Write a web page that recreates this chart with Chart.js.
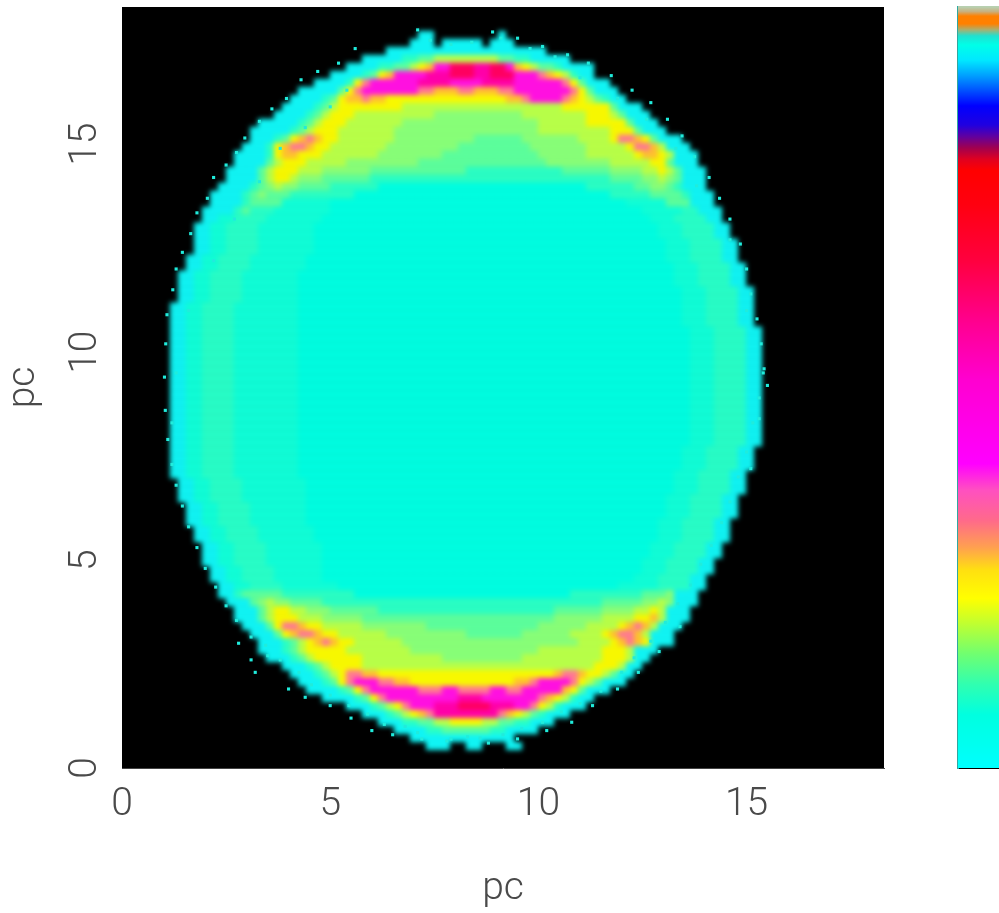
<!DOCTYPE html>
<html>
<head>
<meta charset="utf-8">
<style>
html, body { margin: 0; padding: 0; background: #fff; overflow: hidden; }
#wrap { position: relative; width: 999px; height: 913px; }
#map { position: absolute; left: 0; top: 0; filter: blur(0.5px); }
#bar { position: absolute; left: 957px; top: 6px; filter: blur(0.7px); }
</style>
<script src="https://cdn.jsdelivr.net/npm/chart.js@4/dist/chart.umd.js"></script>
</head>
<body>
<div id="wrap">
  <canvas id="map" width="999" height="913"></canvas>
  <canvas id="bar" width="42" height="763"></canvas>
</div>
<script>
// colour of each level letter, low to high
var levelColors = {
  c: '#10f4f4', a: '#00ffe2', d: '#10ffd8', e: '#28ffc8', b: '#2affc4', g: '#5cff9c', h: '#88ff78', l: '#b8ff48',
  y: '#f8f800', o: '#ffc030', s: '#ff7a90', m: '#ff10e0', p: '#ff00a8', r: '#ff0060'
};

// image rows, top to bottom, run length coded ("." = empty)
var mapRows = [
  '', '', '',
  '37.2c8.1c',
  '36.3c1.5c1.3c',
  '33.20c',
  '30.5c2b2g8l2g2b5c',
  '28.4c2b2g1l1y1o2m3r2p2r1m1o1y1l2g1b4c',
  '26.4c1b1g1y1o4m3p3r2p3r3m1s1o1y1l1b2c',
  '24.4c1b1y1s6m4p4m4p6m1s1y1g3c',
  '22.5c1g1y1s7m2s3o2s3o2s7m1s1y1g3c',
  '21.4c1b1g1y2o1s2o15y2o1s4m1s1o1y1l1g1b2c',
  '20.4c1b1g1l8y20l6y1g3c',
  '19.4c1b1g1l3y10l11h8l3y1l1g3c',
  '17.5c1b1g1l3y7l17h6l5y1g3c',
  '16.5c1b1g1l3y7l18h9l3y1g3c',
  '16.3c1b1g1y1o1s1o2y7l10h6g7h4l1y2s1o1y1g3c',
  '15.3c1b1y1o2s1o2y7l9h9g7h5l1y2s1o1l3c',
  '14.4c1b1y2o3y7l8h12g6h6l1y2o1y1l3c',
  '14.4c1g1l3y5l9h16g8h5l2y1g3c',
  '13.4c1g1l3y3l6h12g12b6g4h2l1y1l1g3c',
  '13.4c1g1l2y1l3h6g30b4g2h1l1h1g3c',
  '12.4c1b1g1h1l2h4g6b26a6b2g2h1g1b3c',
  '11.4c1b1g1h3g8b32a5b4g1b3c',
  '11.4c1b4g6d37a5d3g3c',
  '10.4c1b1g3e7d39a5d2e3c',
  '10.2c2d4e7d41a3d4e2c',
  '9.2c2d4e7d43a3d4e2c',
  '9.2c2d4e7d43a3d4e2c',
  '9.2c2d4e7d44a3d4e2c',
  '9.2c2d4e7d44a3d4e2c',
  '8.2c2d4e7d45a3d4e2c',
  '8.2c2d4e7d46a3d4e2c',
  '7.2c2d4e7d47a3d4e2c',
  '7.2c2d4e7d47a3d4e2c',
  '7.2c2d4e7d48a3d4e2c',
  '7.2c2d4e7d48a3d4e2c',
  '6.2c2d4e8d48a3d4e2c',
  '6.2c2d4e8d48a3d4e2c',
  '6.2c2d4e8d48a3d4e2c',
  '6.2c2d4e8d49a3d4e2c',
  '6.2c2d4e8d49a3d4e2c',
  '6.2c2d4e8d49a3d4e2c',
  '6.2c2d4e8d49a3d4e2c',
  '6.2c2d4e8d49a3d4e2c',
  '6.2c2d4e8d49a3d4e2c',
  '6.2c2d4e8d49a3d4e2c',
  '6.2c2d4e8d49a3d4e2c',
  '6.2c2d4e8d49a3d4e2c',
  '6.2c2d4e8d49a3d4e2c',
  '6.2c2d4e8d49a3d4e2c',
  '6.2c2d4e8d49a3d4e2c',
  '6.2c2d4e8d49a3d4e2c',
  '6.2c2d4e8d49a3d4e2c',
  '6.2c2d4e8d49a3d4e2c',
  '6.2c2d4e8d48a3d4e2c',
  '6.2c2d4e8d48a3d4e2c',
  '6.2c2d4e8d48a3d4e2c',
  '6.2c2d4e8d47a3d4e2c',
  '7.2c2d4e8d46a3d4e2c',
  '7.2c2d4e8d46a3d4e2c',
  '7.2c2d4e8d45a3d4e2c',
  '8.2c2d4e7d45a3d4e2c',
  '8.2c2d4e7d45a3d4e2c',
  '8.2c2d4e7d44a3d4e2c',
  '9.2c2d4e7d43a3d4e2c',
  '9.2c2d4e7d43a3d4e2c',
  '10.2c2d4e7d41a3d4e2c',
  '10.2c2d4e7d41a3d4e2c',
  '10.2c2d4e7d40a3d4e2c',
  '11.2c2d4e6d40a3d4e2c',
  '11.2c2d4e6d39a3d4e2c',
  '12.2c2d4e7d35a5d4e2c',
  '12.2c1b5g9b27a9b3g1h3c',
  '13.3c1g1h1l2h4g35b5g2h1l1h3c',
  '14.3c1g1l2y2l3h6g22b6g4h2l1y1l3c',
  '14.3c1g1l3y3l5h24g6h4l2y1o1l3c',
  '15.3c1g1y2s1o2y5l8h14g6h4l1y1o1s1o1l3c',
  '16.3c1g1y1o2s1o2y6l10h7g6h4l1y1o2s1o1l3c',
  '17.3c1b1g1l1y1o1s1o2y6l22h4l1y1o1s1o1y3c',
  '17.3c1b1g1l5y8l16h8l3y1l3c',
  '18.3c1b1g1l6y10l10h10l3y1l2c',
  '20.3c1b1g1l4y29l3y1l2c',
  '21.3c1b1g1l1y2s2o22y1o2s1o2y1l1g2c',
  '22.3c1b1g1y1s3m2s2o13y2o1s4m1s1y1l1g3c',
  '23.4c1b1g1y1s6m3s2m4s2m2s5m1o1y1g3c',
  '25.4c1b1g1y1s9m3p7m1s1o1y1l1b2c',
  '28.3c1b1g1l1y1s3m3p4r3p2m1s1y1l1b3c',
  '30.3c1b1g1l1y1o1s8p1s1o1y1l1g1b3c',
  '32.3c2b2g2l4y2l2g2b3c',
  '34.4c2b6g2b4c',
  '36.13c',
  '38.3c2.2c3.2c'
];

// loose cyan pixels round the edge, in pc
var speckX = [2.8, 3.2, 3.1, 3.5, 4.0, 4.4, 5.0, 5.5, 6.0, 6.5, 7.2, 7.8, 8.3, 8.8, 9.5, 10.2, 10.8, 11.3, 11.9, 12.4, 12.9, 13.4,
  7.1, 7.4, 7.9, 8.4, 8.9, 9.1, 9.8, 10.4, 11.0, 11.9, 12.6, 13.3, 13.8, 5.4, 5.0, 4.4, 3.8, 3.3, 2.7, 2.2, 1.6, 1.3, 1.2,
  15.4, 15.5, 15.3, 15.1, 15.0, 14.6,
  5.6, 5.2, 4.7, 4.3, 3.95, 3.6, 3.3, 2.95, 2.75, 2.5, 2.2, 2.05, 1.8, 1.65, 1.45, 1.3, 1.22, 1.08, 1.05, 1.02, 1.04, 1.1, 1.2, 1.3, 1.45, 1.6,
  1.8, 2.0, 2.25, 2.5, 2.75, 3.1, 3.45, 3.8, 4.25, 4.55, 5.0, 5.45, 5.9, 6.3, 6.8, 7.1,
  7.9, 8.6, 9.15, 9.6, 10.1, 10.55, 11.0, 11.5, 12.0, 12.3, 12.7, 13.05, 13.35, 13.65, 13.9, 14.15, 14.4, 14.6, 14.8, 15.0, 15.15, 15.3,
  15.42, 15.35, 15.25, 15.1, 15.0, 14.85, 14.6, 14.35, 14.1, 13.75, 13.45, 13.1, 12.7, 12.25, 11.75, 11.2, 10.7, 10.1, 9.5];
var speckY = [3.0, 2.3, 2.6, 2.7, 1.9, 1.7, 1.5, 1.2, 0.9, 0.8, 0.7, 0.65, 0.75, 0.6, 0.7, 0.9, 1.1, 1.5, 1.9, 2.3, 2.8, 3.4,
  17.75, 17.5, 17.4, 17.45, 17.7, 17.55, 17.3, 17.1, 16.6, 16.1, 15.6, 14.9, 14.0, 16.3, 15.9, 15.4, 14.9, 14.1, 13.2, 12.2, 11, 9.5, 8.3,
  9.5, 9.2, 8.4, 7.2, 11.0, 12.7,
  17.3, 16.95, 16.75, 16.55, 16.1, 15.85, 15.55, 15.15, 14.8, 14.5, 14.2, 13.7, 13.35, 12.85, 12.4, 12.0, 11.5, 10.9, 10.2, 9.4, 8.6, 7.9, 7.3, 6.8, 6.3, 5.8,
  5.3, 4.8, 4.35, 3.9, 3.55, 3.15, 2.95, 2.6, 2.3, 2.0, 1.75, 1.5, 1.3, 1.05, 1.0, 0.85,
  0.7, 0.72, 0.8, 0.95, 1.1, 1.35, 1.55, 1.85, 2.3, 2.65, 3.05, 3.5, 3.95, 4.4, 4.9, 5.35, 5.9, 6.4, 7.0, 7.6, 8.3, 8.9,
  9.6, 10.2, 10.8, 11.4, 12.0, 12.6, 13.2, 13.7, 14.2, 14.7, 15.2, 15.6, 16.0, 16.3, 16.65, 16.95, 17.15, 17.35, 17.55];

var tickValues = [0, 5, 10, 15];

// colour bar stops, top to bottom
var barStops = [0, 0.006, 0.012, 0.022, 0.03, 0.038, 0.05, 0.07, 0.09, 0.11, 0.13, 0.155, 0.17, 0.185, 0.2, 0.215, 0.26, 0.335, 0.415,
  0.49, 0.6, 0.635, 0.675, 0.71, 0.74, 0.777, 0.81, 0.85, 0.89, 0.93, 0.97, 1];
var barColors = ['#b8d0b0', '#c8b080', '#ff8000', '#ff8000', '#a8b070', '#20e0d0', '#00ffe8', '#00e8ff', '#00a0ff', '#0050ff', '#0000ff',
  '#2000e0', '#6000a0', '#a00050', '#e00020', '#ff0000', '#ff0010', '#ff0040', '#ff0090', '#ff00d0', '#ff00ff', '#ff50c0', '#ff6a8a',
  '#ffa050', '#ffe010', '#ffff00', '#c0ff30', '#70ff70', '#30ffb0', '#00ffe0', '#00fff0', '#00ffff'];

var xMax = 18.3;
var yMax = 18.3;
var cellPc = xMax / 95.25;
var tickFont = { family: 'Roboto', weight: 300, size: 39 };

var cells = [];
var cellColors = [];
mapRows.forEach(function (row, r) {
  var col = 0;
  (row.match(/\d+[.a-z]/g) || []).forEach(function (run) {
    var n = parseInt(run, 10);
    var key = run.charAt(run.length - 1);
    for (var i = 0; i < n; i++) {
      if (key !== '.') {
        cells.push({ x: (col + 0.5) * cellPc, y: yMax - (r + 0.5) * cellPc });
        cellColors.push(levelColors[key]);
      }
      col++;
    }
  });
});

var specks = speckX.map(function (x, i) { return { x: x, y: speckY[i] }; });

var noPad = function (s) { s.paddingTop = 0; s.paddingBottom = 0; s.paddingLeft = 0; s.paddingRight = 0; };

// black ground, and the cell layer softened once it is down
var mapLook = {
  id: 'mapLook',
  beforeDatasetsDraw: function (chart) {
    var a = chart.chartArea;
    chart.ctx.fillStyle = '#000';
    chart.ctx.fillRect(a.left, a.top, a.right - a.left, a.bottom - a.top);
  },
  afterDatasetDraw: function (chart, args) {
    if (args.index !== 1) return;
    var a = chart.chartArea, ctx = chart.ctx;
    ctx.save();
    ctx.beginPath();
    ctx.rect(a.left, a.top, a.right - a.left, a.bottom - a.top);
    ctx.clip();
    ctx.filter = 'blur(2.6px)';
    ctx.drawImage(ctx.canvas, 0, 0);
    ctx.filter = 'none';
    ctx.strokeStyle = '#000';
    ctx.lineWidth = 12;
    ctx.strokeRect(a.left, a.top, a.right - a.left, a.bottom - a.top);
    ctx.restore();
  }
};

new Chart(document.getElementById('map'), {
  type: 'scatter',
  plugins: [mapLook],
  data: {
    datasets: [
      { data: specks, pointStyle: 'rect', pointRadius: 2.2, pointBorderWidth: 0, pointBackgroundColor: '#20ecdc' },
      { data: cells, pointStyle: 'rect', pointRadius: 5.8, pointBorderWidth: 0, pointBackgroundColor: cellColors }
    ]
  },
  options: {
    responsive: false,
    animation: false,
    layout: { padding: { top: 7, right: 115, left: 0, bottom: 0 } },
    plugins: { legend: { display: false }, tooltip: { enabled: false } },
    scales: {
      x: {
        type: 'linear', min: 0, max: xMax,
        afterBuildTicks: function (s) { s.ticks = tickValues.map(function (v) { return { value: v }; }); },
        afterFit: function (s) { s.height = 145; noPad(s); },
        grid: { display: false },
        border: { display: true, color: '#444', width: 1 },
        ticks: { font: tickFont, color: '#4a4a4a', padding: 6, maxRotation: 0 },
        title: { display: true, text: 'pc', color: '#4a4a4a', font: tickFont, padding: { top: 0, bottom: 0 } }
      },
      y: {
        type: 'linear', min: 0, max: yMax,
        afterBuildTicks: function (s) { s.ticks = tickValues.map(function (v) { return { value: v }; }); },
        afterFit: function (s) { s.width = 122; noPad(s); },
        grid: { display: false },
        border: { display: false },
        ticks: { font: tickFont, color: '#4a4a4a', padding: 6, minRotation: 90, crossAlign: 'center' },
        title: { display: true, text: 'pc', color: '#4a4a4a', font: tickFont, padding: { top: 1, bottom: 0 } }
      }
    }
  }
});

var barCanvas = document.getElementById('bar');
var barGradient = barCanvas.getContext('2d').createLinearGradient(0, 1, 0, 762);
barStops.forEach(function (s, i) { barGradient.addColorStop(s, barColors[i]); });

new Chart(barCanvas, {
  type: 'bar',
  data: { labels: [''], datasets: [{ data: [1], backgroundColor: barGradient, barPercentage: 1, categoryPercentage: 1 }] },
  options: {
    responsive: false,
    animation: false,
    layout: { padding: 0 },
    plugins: { legend: { display: false }, tooltip: { enabled: false } },
    scales: {
      x: {
        afterFit: function (s) { s.height = 1; noPad(s); },
        grid: { display: false }, border: { color: '#000', width: 2 }, ticks: { display: false }
      },
      y: {
        min: 0, max: 1,
        afterFit: function (s) { s.width = 1; noPad(s); },
        grid: { display: false }, border: { color: '#30a8a0', width: 2 }, ticks: { display: false }
      }
    }
  }
});
</script>
</body>
</html>
